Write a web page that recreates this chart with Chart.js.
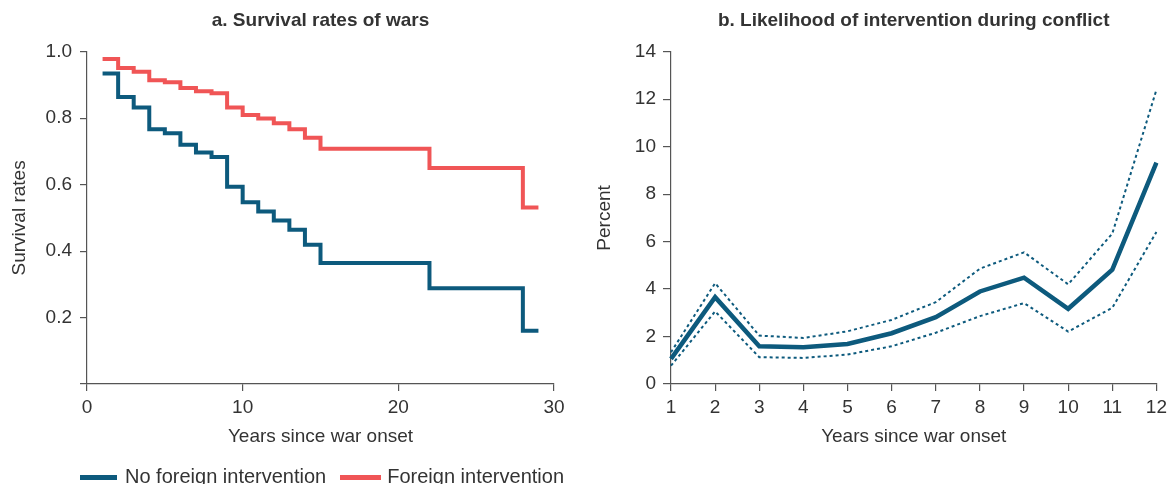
<!DOCTYPE html>
<html>
<head>
  <meta charset="utf-8">
  <title>Wars and foreign intervention</title>
  <script src="https://cdn.jsdelivr.net/npm/chart.js@4.4.1/dist/chart.umd.min.js"></script>
  <style>
    body { margin: 0; background: #fff; overflow: hidden; font-family: "Liberation Sans", Arial, sans-serif; }
    #wrapA { position: absolute; left: 0; top: 0; width: 580px; height: 484px; }
    #wrapB { position: absolute; left: 586px; top: 0; width: 586px; height: 484px; }
    .legend { position: absolute; left: 80px; top: 464px; font-size: 20px; line-height: 24px; color: #333; white-space: nowrap; }
    .legend span.sw { display: inline-block; width: 37px; height: 5px; vertical-align: middle; margin-right: 8px; }
  </style>
</head>
<body>
  <div id="wrapA"><canvas id="chartA"></canvas></div>
  <div id="wrapB"><canvas id="chartB"></canvas></div>
  <div class="legend">
    <span class="sw" style="background:#0d5a7d"></span>No foreign intervention<span class="sw" style="background:#f05556; width:41px; margin-left:14px; margin-right:6px"></span>Foreign intervention
  </div>

  <script>
    // a. survival rates (Kaplan-Meier style steps)
    let yearsNoInt = [1, 2, 3, 4, 5, 6, 7, 8, 9, 10, 11, 12, 13, 14, 15, 22, 28, 29];
    let survNoInt = [0.935, 0.864, 0.832, 0.767, 0.755, 0.720, 0.697, 0.683, 0.594, 0.547, 0.519, 0.492, 0.464, 0.419, 0.364, 0.288, 0.160, 0.160];
    let yearsInt = [1, 2, 3, 4, 5, 6, 7, 8, 9, 10, 11, 12, 13, 14, 15, 22, 28, 29];
    let survInt = [0.978, 0.951, 0.940, 0.914, 0.908, 0.891, 0.881, 0.875, 0.832, 0.810, 0.799, 0.785, 0.767, 0.741, 0.708, 0.650, 0.531, 0.531];

    // b. likelihood of intervention
    let yearLabels = ['1', '2', '3', '4', '5', '6', '7', '8', '9', '10', '11', '12'];
    let likelihood = [1.06, 3.66, 1.59, 1.55, 1.69, 2.14, 2.82, 3.90, 4.48, 3.17, 4.82, 9.33];
    let upperBand = [1.34, 4.25, 2.04, 1.94, 2.22, 2.70, 3.45, 4.86, 5.55, 4.20, 6.34, 12.40];
    let lowerBand = [0.77, 3.06, 1.13, 1.10, 1.24, 1.59, 2.16, 2.86, 3.41, 2.21, 3.21, 6.41];

    const blue = '#0d5a7d';
    const red = '#f05556';
    const txt = '#333333';
    const axisCol = '#555555';
    const fontFam = '"Liberation Sans", Arial, sans-serif';

    Chart.defaults.font.family = fontFam;
    Chart.defaults.font.size = 19;
    Chart.defaults.color = txt;
    Chart.defaults.animation = false;

    function toXY(xs, ys) {
      return xs.map((x, i) => ({ x: x, y: ys[i] }));
    }

    function axisGrid(len) {
      return { drawOnChartArea: false, drawTicks: true, tickLength: len, color: axisCol, lineWidth: 1.2 };
    }

    function titleOpts(text) {
      return {
        display: true, text: text, fullSize: false, color: txt,
        font: { family: fontFam, size: 19, weight: 'bold' },
        padding: { top: 9, bottom: 20 }
      };
    }

    function xTitle() {
      return { display: true, text: 'Years since war onset', color: txt, font: { size: 19 }, padding: { top: 0, bottom: 36 } };
    }

    new Chart(document.getElementById('chartA').getContext('2d'), {
      type: 'line',
      data: {
        datasets: [
          { label: 'No foreign intervention', data: toXY(yearsNoInt, survNoInt), stepped: true,
            borderColor: blue, backgroundColor: blue, borderWidth: 4, pointRadius: 0, fill: false },
          { label: 'Foreign intervention', data: toXY(yearsInt, survInt), stepped: true,
            borderColor: red, backgroundColor: red, borderWidth: 4, pointRadius: 0, fill: false }
        ]
      },
      options: {
        responsive: true,
        maintainAspectRatio: false,
        layout: { padding: { left: 0, right: 26, top: 0, bottom: 0 } },
        plugins: {
          legend: { display: false },
          tooltip: { enabled: false },
          title: titleOpts('a. Survival rates of wars')
        },
        scales: {
          x: {
            type: 'linear', min: 0, max: 30,
            grid: axisGrid(7),
            border: { display: true, color: axisCol, width: 1.2 },
            ticks: { stepSize: 10, padding: 5, maxRotation: 0, color: txt },
            title: xTitle(),
            afterFit: s => { s.height = 100; }
          },
          y: {
            min: 0, max: 1,
            grid: axisGrid(7),
            border: { display: true, color: axisCol, width: 1.2 },
            ticks: { stepSize: 0.2, padding: 8, color: txt,
              callback: v => v === 0 ? '' : v.toFixed(1) },
            title: { display: true, text: 'Survival rates', color: txt, font: { size: 19 }, padding: { top: 8, bottom: 0 } },
            afterFit: s => { s.width = 87; }
          }
        }
      }
    });

    new Chart(document.getElementById('chartB').getContext('2d'), {
      type: 'line',
      data: {
        labels: yearLabels,
        datasets: [
          { label: 'Upper bound', data: upperBand, borderColor: blue, borderWidth: 2, borderDash: [3, 3],
            pointRadius: 0, fill: false, tension: 0 },
          { label: 'Likelihood', data: likelihood, borderColor: blue, borderWidth: 4.5,
            pointRadius: 0, fill: false, tension: 0 },
          { label: 'Lower bound', data: lowerBand, borderColor: blue, borderWidth: 2, borderDash: [3, 3],
            pointRadius: 0, fill: false, tension: 0 }
        ]
      },
      options: {
        responsive: true,
        maintainAspectRatio: false,
        layout: { padding: { left: 0, right: 15, top: 0, bottom: 0 } },
        plugins: {
          legend: { display: false },
          tooltip: { enabled: false },
          title: titleOpts('b. Likelihood of intervention during conflict')
        },
        scales: {
          x: {
            offset: false,
            grid: axisGrid(7),
            border: { display: true, color: axisCol, width: 1.2 },
            ticks: { padding: 5, maxRotation: 0, autoSkip: false, color: txt },
            title: xTitle(),
            afterFit: s => { s.height = 100; }
          },
          y: {
            min: 0, max: 14,
            grid: axisGrid(8),
            border: { display: true, color: axisCol, width: 1.2 },
            ticks: { stepSize: 2, padding: 7, color: txt },
            title: { display: true, text: 'Percent', color: txt, font: { size: 19 }, padding: { top: 7, bottom: 0 } },
            afterFit: s => { s.width = 85; }
          }
        }
      }
    });
  </script>
</body>
</html>
